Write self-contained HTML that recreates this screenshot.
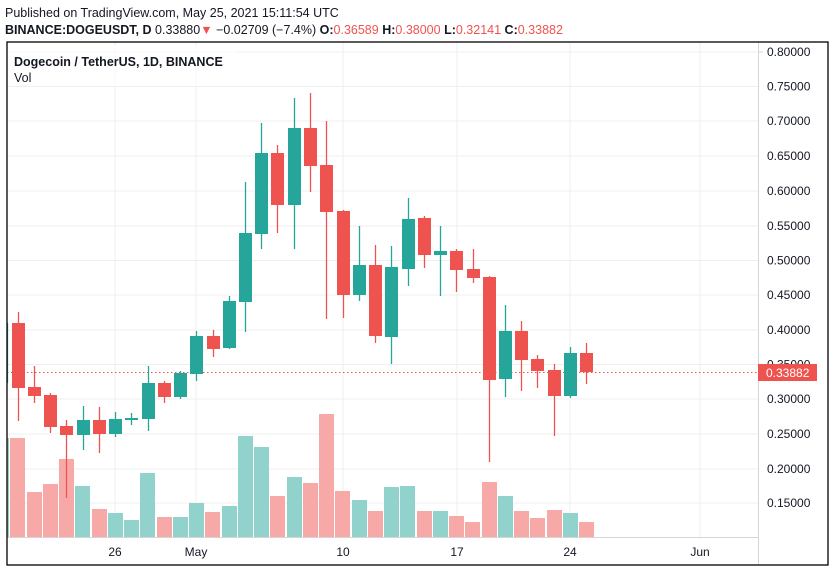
<!DOCTYPE html>
<html><head><meta charset="utf-8"><style>
body{margin:0;background:#fff;width:835px;height:572px;overflow:hidden;font-family:"Liberation Sans",sans-serif}
</style></head><body>
<svg width="835" height="572" xmlns="http://www.w3.org/2000/svg" font-family="Liberation Sans, sans-serif">
<rect width="835" height="572" fill="#fff"/>
<text x="5" y="17" font-size="12.5" fill="#131722">Published on TradingView.com, May 25, 2021 15:11:54 UTC</text>
<text x="5" y="34" font-size="12.5" fill="#131722"><tspan font-weight="bold">BINANCE:DOGEUSDT, D</tspan> 0.33880<tspan fill="#ef5350">▼</tspan> −0.02709 (−7.4%) <tspan font-weight="bold">O:</tspan><tspan fill="#ef5350">0.36589</tspan> <tspan font-weight="bold">H:</tspan><tspan fill="#ef5350">0.38000</tspan> <tspan font-weight="bold">L:</tspan><tspan fill="#ef5350">0.32141</tspan> <tspan font-weight="bold">C:</tspan><tspan fill="#ef5350">0.33882</tspan></text>
<g stroke="#efefef" stroke-width="1">
<line x1="7" x2="758" y1="52" y2="52"/><line x1="7" x2="758" y1="86.5" y2="86.5"/><line x1="7" x2="758" y1="121" y2="121"/><line x1="7" x2="758" y1="156" y2="156"/><line x1="7" x2="758" y1="191" y2="191"/><line x1="7" x2="758" y1="226" y2="226"/><line x1="7" x2="758" y1="260.5" y2="260.5"/><line x1="7" x2="758" y1="295" y2="295"/><line x1="7" x2="758" y1="330" y2="330"/><line x1="7" x2="758" y1="364.5" y2="364.5"/><line x1="7" x2="758" y1="399" y2="399"/><line x1="7" x2="758" y1="434" y2="434"/><line x1="7" x2="758" y1="469" y2="469"/><line x1="7" x2="758" y1="503" y2="503"/>
<line x1="115" x2="115" y1="42" y2="537"/><line x1="196" x2="196" y1="42" y2="537"/><line x1="343" x2="343" y1="42" y2="537"/><line x1="457" x2="457" y1="42" y2="537"/><line x1="570" x2="570" y1="42" y2="537"/><line x1="700" x2="700" y1="42" y2="537"/>
</g>
<line x1="7" x2="758" y1="537.5" y2="537.5" stroke="#d6d6d6"/>
<line x1="758.5" x2="758.5" y1="42" y2="565" stroke="#d6d6d6"/>
<g id="vol">
<rect x="7" y="438" width="2" height="99" fill="#92d2cc"/>
<rect x="10" y="438" width="15" height="99" fill="#f7a9a7"/>
<rect x="27" y="492" width="15" height="45" fill="#f7a9a7"/>
<rect x="43" y="484" width="15" height="53" fill="#f7a9a7"/>
<rect x="59" y="459" width="15" height="78" fill="#f7a9a7"/>
<rect x="75" y="486" width="15" height="51" fill="#92d2cc"/>
<rect x="92" y="509" width="15" height="28" fill="#f7a9a7"/>
<rect x="108" y="513" width="15" height="24" fill="#92d2cc"/>
<rect x="124" y="520" width="15" height="17" fill="#92d2cc"/>
<rect x="140" y="473" width="15" height="64" fill="#92d2cc"/>
<rect x="157" y="517" width="15" height="20" fill="#f7a9a7"/>
<rect x="173" y="517" width="15" height="20" fill="#92d2cc"/>
<rect x="189" y="503" width="15" height="34" fill="#92d2cc"/>
<rect x="205" y="512" width="15" height="25" fill="#f7a9a7"/>
<rect x="222" y="506" width="15" height="31" fill="#92d2cc"/>
<rect x="238" y="436" width="15" height="101" fill="#92d2cc"/>
<rect x="254" y="447" width="15" height="90" fill="#92d2cc"/>
<rect x="270" y="496" width="15" height="41" fill="#f7a9a7"/>
<rect x="287" y="477" width="15" height="60" fill="#92d2cc"/>
<rect x="303" y="483" width="15" height="54" fill="#f7a9a7"/>
<rect x="319" y="414" width="15" height="123" fill="#f7a9a7"/>
<rect x="335" y="491" width="15" height="46" fill="#f7a9a7"/>
<rect x="352" y="500" width="15" height="37" fill="#92d2cc"/>
<rect x="368" y="511" width="15" height="26" fill="#f7a9a7"/>
<rect x="384" y="487" width="15" height="50" fill="#92d2cc"/>
<rect x="400" y="486" width="15" height="51" fill="#92d2cc"/>
<rect x="417" y="511" width="15" height="26" fill="#f7a9a7"/>
<rect x="433" y="511" width="15" height="26" fill="#92d2cc"/>
<rect x="449" y="516" width="15" height="21" fill="#f7a9a7"/>
<rect x="465" y="522" width="15" height="15" fill="#f7a9a7"/>
<rect x="482" y="482" width="15" height="55" fill="#f7a9a7"/>
<rect x="498" y="496" width="15" height="41" fill="#92d2cc"/>
<rect x="514" y="511" width="15" height="26" fill="#f7a9a7"/>
<rect x="530" y="518" width="15" height="19" fill="#f7a9a7"/>
<rect x="547" y="510" width="15" height="27" fill="#f7a9a7"/>
<rect x="563" y="513" width="15" height="24" fill="#92d2cc"/>
<rect x="579" y="522" width="15" height="15" fill="#f7a9a7"/>
</g>
<line x1="7" x2="758" y1="372.5" y2="372.5" stroke="#ef5350" stroke-dasharray="1.5,2.5"/>
<g id="candles" stroke-width="1.3">
<g stroke="#26a69a" fill="#26a69a"><line x1="7.5" x2="7.5" y1="323" y2="383"/></g>
<g stroke="#ef5350" fill="#ef5350">
<line x1="18.5" x2="18.5" y1="312" y2="421"/><rect x="12" y="323" width="13" height="65" stroke="none"/>
<line x1="34.5" x2="34.5" y1="366" y2="403"/><rect x="28" y="387" width="13" height="9" stroke="none"/>
<line x1="50.5" x2="50.5" y1="393" y2="433"/><rect x="44" y="395" width="13" height="32" stroke="none"/>
<line x1="66.5" x2="66.5" y1="420" y2="498"/><rect x="60" y="426" width="13" height="9" stroke="none"/>
<line x1="99.5" x2="99.5" y1="407" y2="453"/><rect x="93" y="420" width="13" height="14" stroke="none"/>
<line x1="164.5" x2="164.5" y1="381" y2="403"/><rect x="158" y="383" width="13" height="14" stroke="none"/>
<line x1="213.5" x2="213.5" y1="330" y2="357"/><rect x="207" y="336" width="13" height="13" stroke="none"/>
<line x1="277.5" x2="277.5" y1="145" y2="233"/><rect x="271" y="153" width="13" height="52" stroke="none"/>
<line x1="310.5" x2="310.5" y1="93" y2="192"/><rect x="304" y="128" width="13" height="38" stroke="none"/>
<line x1="326.5" x2="326.5" y1="121" y2="319"/><rect x="320" y="165" width="13" height="47" stroke="none"/>
<line x1="343.5" x2="343.5" y1="210" y2="318"/><rect x="337" y="211" width="13" height="84" stroke="none"/>
<line x1="375.5" x2="375.5" y1="245" y2="343"/><rect x="369" y="265" width="13" height="71" stroke="none"/>
<line x1="424.5" x2="424.5" y1="216" y2="268"/><rect x="418" y="218" width="13" height="37" stroke="none"/>
<line x1="456.5" x2="456.5" y1="249" y2="292"/><rect x="450" y="251" width="13" height="19" stroke="none"/>
<line x1="473.5" x2="473.5" y1="249" y2="283"/><rect x="467" y="269" width="13" height="9" stroke="none"/>
<line x1="489.5" x2="489.5" y1="276" y2="462"/><rect x="483" y="277" width="13" height="103" stroke="none"/>
<line x1="521.5" x2="521.5" y1="321" y2="391"/><rect x="515" y="331" width="13" height="29" stroke="none"/>
<line x1="537.5" x2="537.5" y1="355" y2="388"/><rect x="531" y="359" width="13" height="12" stroke="none"/>
<line x1="554.5" x2="554.5" y1="364" y2="436"/><rect x="548" y="370" width="13" height="26" stroke="none"/>
<line x1="586.5" x2="586.5" y1="343" y2="384"/><rect x="580" y="353" width="13" height="19" stroke="none"/>
</g>
<g stroke="#26a69a" fill="#26a69a">
<line x1="83.5" x2="83.5" y1="406" y2="450"/><rect x="77" y="420" width="13" height="15" stroke="none"/>
<line x1="115.5" x2="115.5" y1="412" y2="437"/><rect x="109" y="419" width="13" height="15" stroke="none"/>
<line x1="131.5" x2="131.5" y1="413" y2="425"/><rect x="125" y="418" width="13" height="2" stroke="none"/>
<line x1="148.5" x2="148.5" y1="366" y2="431"/><rect x="142" y="383" width="13" height="36" stroke="none"/>
<line x1="180.5" x2="180.5" y1="371" y2="399"/><rect x="174" y="373" width="13" height="24" stroke="none"/>
<line x1="196.5" x2="196.5" y1="331" y2="381"/><rect x="190" y="336" width="13" height="38" stroke="none"/>
<line x1="229.5" x2="229.5" y1="296" y2="349"/><rect x="223" y="301" width="13" height="47" stroke="none"/>
<line x1="245.5" x2="245.5" y1="182" y2="332"/><rect x="239" y="233" width="13" height="69" stroke="none"/>
<line x1="261.5" x2="261.5" y1="123" y2="249"/><rect x="255" y="153" width="13" height="81" stroke="none"/>
<line x1="294.5" x2="294.5" y1="98" y2="249"/><rect x="288" y="128" width="13" height="77" stroke="none"/>
<line x1="359.5" x2="359.5" y1="226" y2="301"/><rect x="353" y="265" width="13" height="30" stroke="none"/>
<line x1="391.5" x2="391.5" y1="246" y2="364"/><rect x="385" y="267" width="13" height="70" stroke="none"/>
<line x1="408.5" x2="408.5" y1="198" y2="286"/><rect x="402" y="219" width="13" height="50" stroke="none"/>
<line x1="440.5" x2="440.5" y1="226" y2="296"/><rect x="434" y="251" width="13" height="4" stroke="none"/>
<line x1="505.5" x2="505.5" y1="305" y2="397"/><rect x="499" y="331" width="13" height="48" stroke="none"/>
<line x1="570.5" x2="570.5" y1="347" y2="398"/><rect x="564" y="353" width="13" height="43" stroke="none"/>
</g>
</g>
<g font-size="12" fill="#131722">
<text x="767" y="56">0.80000</text><text x="767" y="90.5">0.75000</text><text x="767" y="125">0.70000</text><text x="767" y="160">0.65000</text><text x="767" y="195">0.60000</text><text x="767" y="230">0.55000</text><text x="767" y="264.5">0.50000</text><text x="767" y="299">0.45000</text><text x="767" y="334">0.40000</text><text x="767" y="368.5">0.35000</text><text x="767" y="403">0.30000</text><text x="767" y="438">0.25000</text><text x="767" y="473">0.20000</text><text x="767" y="507">0.15000</text>
</g>
<g stroke="#d6d6d6"><line x1="758" x2="763" y1="52" y2="52"/></g>
<rect x="758" y="364" width="59" height="17" fill="#ef5350"/>
<text x="766" y="377" font-size="12" fill="#fff">0.33882</text>
<g font-size="12" fill="#131722" text-anchor="middle">
<text x="115" y="556">26</text><text x="196" y="556">May</text><text x="343" y="556">10</text><text x="457" y="556">17</text><text x="570" y="556">24</text><text x="700" y="556">Jun</text>
</g>
<rect x="7" y="42" width="821" height="523" fill="none" stroke="#000" stroke-width="1.3"/>
<rect x="8" y="46" width="230" height="40" fill="#fff" fill-opacity="0.7"/>
<text x="14" y="66" font-size="12.5" font-weight="bold" fill="#131722">Dogecoin / TetherUS, 1D, BINANCE</text>
<text x="14" y="82" font-size="12.5" fill="#131722">Vol</text>
</svg>
</body></html>
